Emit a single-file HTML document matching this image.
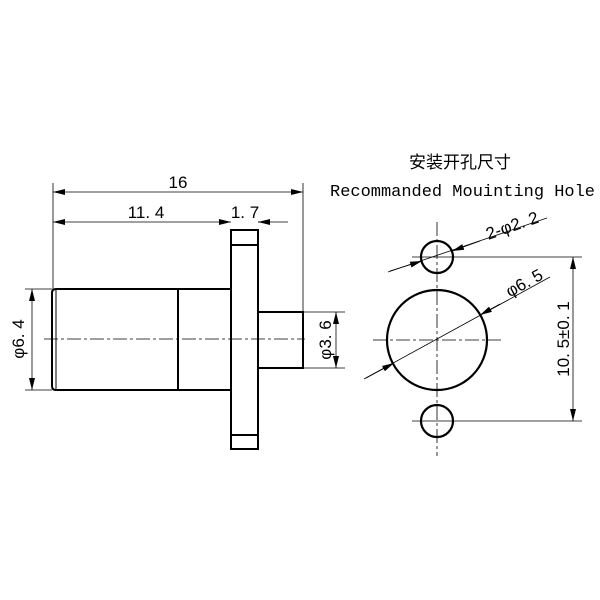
<!DOCTYPE html>
<html><head><meta charset="utf-8"><style>
html,body{margin:0;padding:0;background:#fff;}
svg{display:block;}
text{font-family:"Liberation Sans","Noto Sans CJK SC",sans-serif;fill:#000;}
text.m{font-family:"Liberation Mono",monospace;}
</style></head><body>
<svg width="600" height="600" viewBox="0 0 600 600" xmlns="http://www.w3.org/2000/svg">
<defs>
<marker id="a" viewBox="0 0 12 6" refX="12" refY="3" markerWidth="12" markerHeight="6" orient="auto-start-reverse" markerUnits="userSpaceOnUse"><path d="M0,0 L12,3 L0,6 z" fill="#000"/></marker>
</defs>
<g stroke="#000" fill="none">
<line x1="53" y1="183" x2="53" y2="289" stroke-width="0.8"/>
<line x1="303" y1="183" x2="303" y2="312" stroke-width="0.8"/>
<line x1="53" y1="192" x2="303" y2="192" stroke-width="0.8" marker-start="url(#a)" marker-end="url(#a)"/>
<line x1="53" y1="222" x2="231" y2="222" stroke-width="0.8" marker-start="url(#a)" marker-end="url(#a)"/>
<line x1="258" y1="222" x2="288" y2="222" stroke-width="0.8"/>
<line x1="270" y1="222" x2="258" y2="222" stroke-width="0.8" marker-end="url(#a)"/>
<rect x="231" y="230" width="27" height="219" stroke-width="2"/>
<line x1="231" y1="245" x2="258" y2="245" stroke-width="2"/>
<line x1="231" y1="435" x2="258" y2="435" stroke-width="2"/>
<path d="M231,289 L56,289 Q52,289 52,293 L52,386 Q52,390 56,390 L231,390" stroke-width="2"/>
<line x1="56" y1="290" x2="56" y2="389" stroke-width="1"/>
<line x1="178" y1="289" x2="178" y2="390" stroke-width="2"/>
<path d="M258,312 L303,312 L303,368 L258,368" stroke-width="2"/>
<line x1="44" y1="339" x2="305" y2="339" stroke-width="0.8" stroke-dasharray="14,3,3,3"/>
<line x1="25" y1="289" x2="52" y2="289" stroke-width="0.8"/>
<line x1="25" y1="390" x2="52" y2="390" stroke-width="0.8"/>
<line x1="32" y1="289" x2="32" y2="390" stroke-width="0.8" marker-start="url(#a)" marker-end="url(#a)"/>
<line x1="303" y1="312" x2="345" y2="312" stroke-width="0.8"/>
<line x1="303" y1="368" x2="345" y2="368" stroke-width="0.8"/>
<line x1="336" y1="312" x2="336" y2="368" stroke-width="0.8" marker-start="url(#a)" marker-end="url(#a)"/>
<line x1="437" y1="222" x2="437" y2="456" stroke-width="0.8" stroke-dasharray="14,3,3,3"/>
<line x1="373" y1="340" x2="501" y2="340" stroke-width="0.8" stroke-dasharray="14,3,3,3"/>
<circle cx="437" cy="257" r="16" stroke-width="2.2"/>
<circle cx="437" cy="421" r="16" stroke-width="2.2"/>
<circle cx="437" cy="340" r="50" stroke-width="2.2"/>
<line x1="412" y1="257" x2="582" y2="257" stroke-width="0.8"/>
<line x1="412" y1="421" x2="582" y2="421" stroke-width="0.8"/>
<line x1="573" y1="257" x2="573" y2="421" stroke-width="0.8" marker-start="url(#a)" marker-end="url(#a)"/>
<line x1="388" y1="272" x2="547" y2="218" stroke-width="0.8"/>
<line x1="390" y1="271" x2="422" y2="261" stroke-width="0.8" marker-end="url(#a)"/>
<line x1="480" y1="241" x2="452" y2="251" stroke-width="0.8" marker-end="url(#a)"/>
<line x1="364" y1="379" x2="550" y2="277" stroke-width="0.8"/>
<line x1="366" y1="378" x2="394" y2="363" stroke-width="0.8" marker-end="url(#a)"/>
<line x1="500" y1="304" x2="480" y2="315" stroke-width="0.8" marker-end="url(#a)"/>
</g>
<g font-size="17">
<text x="178" y="188" text-anchor="middle">16</text>
<text x="146" y="218" text-anchor="middle">11. 4</text>
<text x="245" y="218" text-anchor="middle">1. 7</text>
<text transform="translate(24,339) rotate(-90)" text-anchor="middle">φ6. 4</text>
<text transform="translate(331,340) rotate(-90)" text-anchor="middle">φ3. 6</text>
<text transform="translate(569,339) rotate(-90)" text-anchor="middle">10. 5±0. 1</text>
<text transform="translate(514,231) rotate(-19)" text-anchor="middle">2-φ2. 2</text>
<text transform="translate(527,288) rotate(-29)" text-anchor="middle">φ6. 5</text>
<text x="460" y="168" text-anchor="middle">安装开孔尺寸</text>
<text class="m" x="330" y="196" textLength="265" lengthAdjust="spacingAndGlyphs">Recommanded Mouinting Hole</text>
</g>
</svg>
</body></html>
